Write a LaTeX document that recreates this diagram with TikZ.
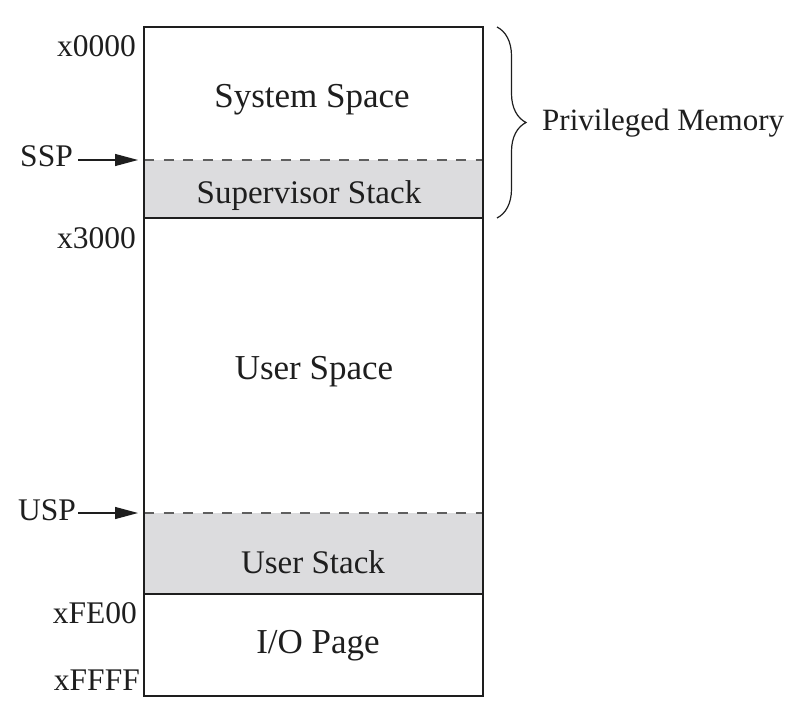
\documentclass[tikz,border=0pt]{standalone}
\usepackage{fontspec}
\setmainfont{Liberation Serif}
\usetikzlibrary{arrows.meta,decorations.pathreplacing}
\definecolor{stackgray}{RGB}{220,220,222}
\definecolor{inkgray}{RGB}{30,30,30}
\definecolor{dashgray}{RGB}{95,95,95}
\begin{document}
\begin{tikzpicture}[x=1pt,y=-1pt,
  memline/.style={draw=inkgray,line width=1.3pt},
  dashline/.style={draw=dashgray,line width=1.3pt,dash pattern=on 10pt off 9.5pt},
  biglbl/.style={inner sep=0pt,anchor=base,font=\fontsize{35}{40}\selectfont,text=inkgray},
  stacklbl/.style={inner sep=0pt,anchor=base,font=\fontsize{33}{38}\selectfont,text=inkgray},
  sidelbl/.style={inner sep=0pt,anchor=base east,font=\fontsize{31.5}{36}\selectfont,text=inkgray},
  ptrarrow/.style={draw=inkgray,line width=1.2pt,-{Triangle[length=23pt,width=12pt]}}]
\useasboundingbox (0,0) rectangle (792,714);
% stacks
\fill[stackgray] (144,160) rectangle (483,218);
\fill[stackgray] (144,513) rectangle (483,594);
% dashed tops of stacks
\draw[dashline] (144,160) -- (483,160);
\draw[dashline] (144,513) -- (483,513);
% solid region borders
\draw[memline] (144,218) -- (483,218);
\draw[memline] (144,594) -- (483,594);
\draw[memline] (144,27) rectangle (483,696);
% region labels
\node[biglbl] (sys) at (312,108) {System Space};
\node[stacklbl] (sup) at (309,204) {Supervisor Stack};
\node[biglbl] (usr) at (314,379) {User Space};
\node[stacklbl] (ust) at (313,573) {User Stack};
\node[biglbl] (io) at (318,653) {I/O Page};
% address labels
\node[sidelbl] (a0) at (136,57) {x0000};
\node[sidelbl] (a3) at (136,248) {x3000};
\node[sidelbl] (afe) at (137,623) {xFE00};
\node[sidelbl] (aff) at (140,690) {xFFFF};
% pointers
\node[sidelbl] (ssp) at (73,167) {SSP};
\node[sidelbl] (usp) at (76,520) {USP};
\coordinate (sspstart) at (78,160);
\coordinate (uspstart) at (78,513);
\coordinate (sspend) at (138,160);
\coordinate (uspend) at (138,513);
\draw[ptrarrow] (sspstart) -- (sspend);
\draw[ptrarrow] (uspstart) -- (uspend);
% brace
\coordinate (btop) at (497,27);
\coordinate (bbot) at (497,218);
\draw[inkgray,line width=1.2pt,decorate,decoration={brace,amplitude=29pt,aspect=0.5}] (btop) -- (bbot);
\node[inner sep=0pt,anchor=base west,font=\fontsize{31}{36}\selectfont,text=inkgray] (priv) at (542,131) {Privileged Memory};
\end{tikzpicture}
\end{document}
